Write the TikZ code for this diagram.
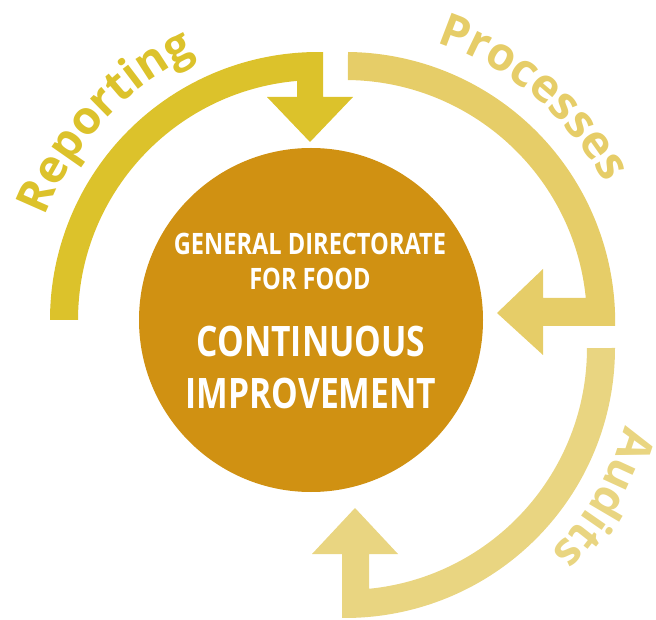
\documentclass[tikz,border=0pt]{standalone}
\usepackage{fontspec}
\setmainfont{Open Sans}
\newfontfamily\arcfam{Open Sans}
\newfontfamily\condfam[FakeStretch=0.8]{Open Sans}
\usetikzlibrary{decorations.text}
\definecolor{repC}{HTML}{DCC22B}
\definecolor{proC}{HTML}{E6CD68}
\definecolor{audC}{HTML}{E9D581}
\definecolor{coreC}{HTML}{D09112}
\newcommand\arctxt{\arcfam\bfseries\fontsize{46}{46}\selectfont}
\tikzset{
  smalltxt/.style={anchor=base, text=white, inner sep=0pt, font=\condfam\bfseries\fontsize{29.5}{29.5}\selectfont},
  bigtxt/.style={anchor=base, text=white, inner sep=0pt, font=\condfam\bfseries\fontsize{42}{42}\selectfont}
}
\begin{document}
\begin{tikzpicture}[x=1pt,y=1pt]
\useasboundingbox (0,0) rectangle (656,619);
\coordinate (c1) at (318,299);
\coordinate (c2) at (345,297);
\coordinate (c3) at (345,271);
% Reporting arrow
\fill[repC] (50,299) arc[start angle=180,end angle=88.9,radius=268]
  -- (323,522) -- (353,522) -- (310,477) -- (267,522) -- (297,522)
  -- (297.1,538.1) arc[start angle=95,end angle=180,radius=240] -- cycle;
% Processes arrow
\fill[proC] (348,567) arc[start angle=89.4,end angle=-0.85,radius=270]
  -- (543,293) -- (543,264) -- (497,306) -- (543,350) -- (543,321)
  -- (585.8,321) arc[start angle=5.69,end angle=89.3,radius=242] -- cycle;
% Audits arrow
\fill[audC] (615,271) arc[start angle=0,end angle=-90.6,radius=270]
  -- (342,65) -- (312,65) -- (355,111) -- (398,65) -- (369,65)
  -- (369,30.2) arc[start angle=-84.3,end angle=0,radius=242] -- cycle;
% core
\node[circle, fill=coreC, minimum size=344pt, inner sep=0pt] (core) at (311,299) {};
\node[smalltxt] (l1) at (310,364) {GENERAL DIRECTORATE};
\node[smalltxt] (l2) at (310,329) {FOR FOOD};
\node[bigtxt] (l3) at (311,262) {CONTINUOUS};
\node[bigtxt] (l4) at (311,210) {IMPROVEMENT};
% arc labels
\path[decorate, decoration={text along path, text color=repC, text align=center, text={|\arctxt|Reporting}}]
  (c1) ++(187:292) arc[start angle=187,end angle=87,radius=292];
\path[decorate, decoration={text along path, text color=proC, text align=center, text={|\arctxt|Processes}}]
  (c2) ++(100:294) arc[start angle=100,end angle=0,radius=294];
\path[decorate, decoration={text along path, text color=audC, text align=center, text={|\arctxt|Audits}}]
  (c3) ++(15:290) arc[start angle=15,end angle=-75,radius=290];
\end{tikzpicture}
\end{document}
